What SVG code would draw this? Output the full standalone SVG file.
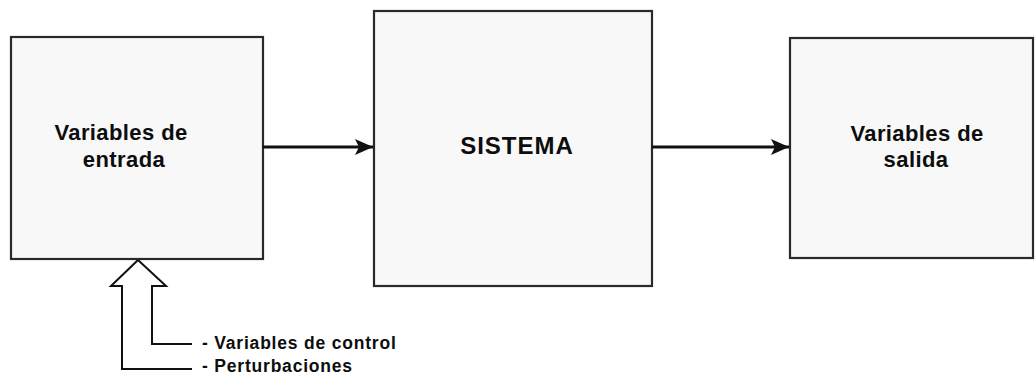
<svg xmlns="http://www.w3.org/2000/svg" width="1035" height="376" viewBox="0 0 1035 376">
  <style>
    .box { fill: #f8f8f8; stroke: #2a2a2a; stroke-width: 2.2; }
    .label { font-family: "Liberation Sans", Arial, sans-serif; font-weight: bold; fill: #0d0d0d; }
    .big { font-size: 22px; letter-spacing: 0.4px; text-anchor: middle; }
    .sys { font-size: 24px; letter-spacing: 1px; text-anchor: middle; }
    .small { font-size: 17.5px; letter-spacing: 0.8px; }
    .flow { fill: none; stroke: #111; stroke-width: 3; }
    .outline { fill: #fff; stroke: #111; stroke-width: 2; stroke-linejoin: miter; }
  </style>
  <defs>
    <marker id="head" markerUnits="userSpaceOnUse" markerWidth="20" markerHeight="18" viewBox="-19 -9 20 18" refX="0" refY="0" orient="auto">
      <path d="M0,0 L-18,-8 L-14,0 L-18,8 Z" fill="#111"/>
    </marker>
  </defs>
  <rect width="1035" height="376" fill="#fff"/>

  <g id="entrada">
    <rect class="box" x="11" y="37" width="252" height="222"/>
    <text class="label big" x="121" y="140">Variables de</text>
    <text class="label big" x="124" y="167">entrada</text>
  </g>

  <g id="sistema">
    <rect class="box" x="374" y="11" width="278" height="275"/>
    <text class="label sys" x="517" y="154">SISTEMA</text>
  </g>

  <g id="salida">
    <rect class="box" x="790" y="38" width="243" height="220"/>
    <text class="label big" x="917" y="141">Variables de</text>
    <text class="label big" x="916" y="167">salida</text>
  </g>

  <g id="entradas-externas">
    <path class="outline" d="M138,260 L166,286 L152,286 L152,344 L192,344 M138,260 L111,286 L122,286 L122,369 L192,369"/>
    <text class="label small" x="202" y="349">- Variables de control</text>
    <text class="label small" x="202" y="372">- Perturbaciones</text>
  </g>

  <g id="connectors">
    <line class="flow" x1="263" y1="147" x2="373" y2="147" marker-end="url(#head)"/>
    <line class="flow" x1="652" y1="147" x2="789" y2="147" marker-end="url(#head)"/>
  </g>
</svg>
